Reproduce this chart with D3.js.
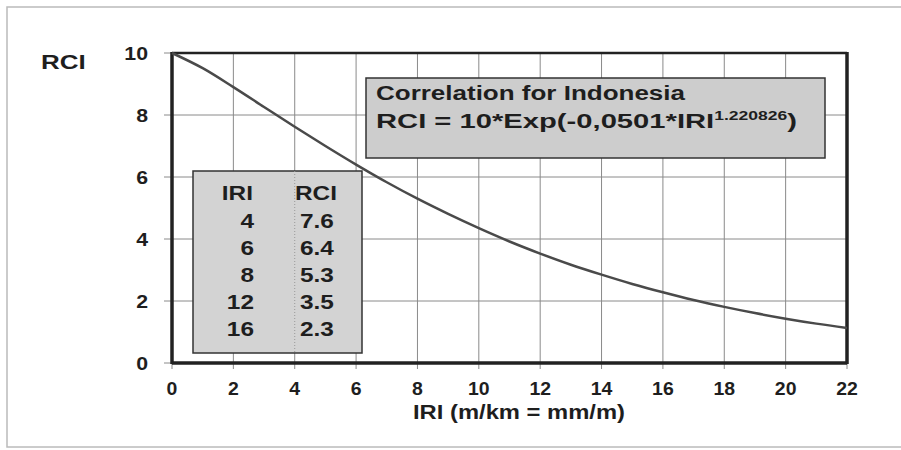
<!DOCTYPE html>
<meta charset="utf-8">
<head>
<style>
  body { margin: 0; background-color: #ffffff; }
  svg { display: block; font-family: "Liberation Sans", Arial, sans-serif; }
  .grid line { stroke: #8a8a8a; stroke-width: 1px; }
  text { fill: #1e1e1e; font-weight: bold; }
  .tick-label { font-size: 18px; }
  .box-text { font-size: 20px; }
</style>
</head>
<body>
<svg id="chart" width="901" height="450"></svg>
<script src="https://d3js.org/d3.v7.min.js"></script>
<script>

// values, one per IRI unit
var iri = [0, 1, 2, 3, 4, 5, 6, 7, 8, 9, 10, 11, 12, 13, 14, 15, 16, 17, 18, 19, 20, 21, 22];
var rci = [10, 9.51, 8.9, 8.26, 7.62, 7.0, 6.4, 5.83, 5.3, 4.81, 4.35, 3.92, 3.53, 3.17, 2.85, 2.55, 2.28, 2.03, 1.81, 1.61, 1.43, 1.27, 1.13];

// the little table in the chart
var tableIri = ["4", "6", "8", "12", "16"];
var tableRci = ["7.6", "6.4", "5.3", "3.5", "2.3"];

var xTicks = [0, 2, 4, 6, 8, 10, 12, 14, 16, 18, 20, 22];
var yTicks = [0, 2, 4, 6, 8, 10];

var svg = d3.select("#chart"),
    margin = {top: 53, right: 54, bottom: 87, left: 172},
    width = +svg.attr("width") - margin.left - margin.right,
    height = +svg.attr("height") - margin.top - margin.bottom;

// the scan is stretched sideways, so text is too
function stretch(sel, x, y, sx) {
  sel.attr("transform", "translate(" + x + "," + y + ") scale(" + sx + ",1)");
  return sel;
}

// outer frame of the scanned figure
svg.append("rect")
    .attr("x", 7).attr("y", 7)
    .attr("width", 900).attr("height", 440)
    .attr("fill", "none")
    .attr("stroke", "#bbb")
    .attr("stroke-width", 1.5);

var x = d3.scaleLinear().domain([0, 22]).range([0, width]);
var y = d3.scaleLinear().domain([0, 10]).range([height, 0]);

var g = svg.append("g")
    .attr("transform", "translate(" + margin.left + "," + margin.top + ")");

// grid
g.append("g").attr("class", "grid")
  .selectAll("line.v")
  .data(xTicks)
  .enter().append("line")
    .attr("x1", function(d) { return x(d); })
    .attr("x2", function(d) { return x(d); })
    .attr("y1", 0)
    .attr("y2", height + 6);

g.append("g").attr("class", "grid")
  .selectAll("line.h")
  .data(yTicks)
  .enter().append("line")
    .attr("x1", -8)
    .attr("x2", width)
    .attr("y1", function(d) { return y(d); })
    .attr("y2", function(d) { return y(d); });

// tick labels
g.selectAll(".xlab")
  .data(xTicks)
  .enter().append("text")
    .attr("class", "tick-label")
    .attr("text-anchor", "middle")
    .attr("transform", function(d) { return "translate(" + x(d) + "," + (height + 32) + ") scale(1.08,1)"; })
    .text(function(d) { return d; });

g.selectAll(".ylab")
  .data(yTicks)
  .enter().append("text")
    .attr("class", "tick-label")
    .attr("text-anchor", "end")
    .style("font-size", "19px")
    .attr("transform", function(d) { return "translate(-24," + (y(d) + 7) + ") scale(1.12,1)"; })
    .text(function(d) { return d; });

// plot border, heavy like the original
g.append("line").attr("x1", 0).attr("x2", width).attr("y1", 0).attr("y2", 0)
    .attr("stroke", "#222").attr("stroke-width", 2.5);
g.append("line").attr("x1", 0).attr("x2", 0).attr("y1", -1).attr("y2", height + 1)
    .attr("stroke", "#222").attr("stroke-width", 3.5);
g.append("line").attr("x1", 0).attr("x2", width).attr("y1", height).attr("y2", height)
    .attr("stroke", "#222").attr("stroke-width", 3.5);
g.append("line").attr("x1", width).attr("x2", width).attr("y1", -1).attr("y2", height + 1)
    .attr("stroke", "#222").attr("stroke-width", 3.5);

// axis titles
stretch(svg.append("text").attr("class", "box-text").text("RCI"), 41, 69, 1.3);

svg.append("text")
    .attr("class", "box-text")
    .attr("x", 413).attr("y", 419)
    .attr("textLength", 212)
    .attr("lengthAdjust", "spacingAndGlyphs")
    .text("IRI (m/km = mm/m)");

// curve
var line = d3.line()
    .x(function(d, i) { return x(iri[i]); })
    .y(function(d) { return y(d); })
    .curve(d3.curveMonotoneX);

g.append("path")
    .datum(rci)
    .attr("fill", "none")
    .attr("stroke", "#4a4a4a")
    .attr("stroke-width", 2.5)
    .attr("d", line);

// correlation box
var cb = g.append("g")
    .attr("transform", "translate(" + (366 - margin.left) + "," + (78 - margin.top) + ")");
cb.append("rect")
    .attr("width", 459).attr("height", 80)
    .attr("fill", "#cdcdcd")
    .attr("stroke", "#333").attr("stroke-width", 1.5);
cb.append("text").attr("class", "box-text")
    .attr("x", 10).attr("y", 22)
    .attr("textLength", 309)
    .attr("lengthAdjust", "spacingAndGlyphs")
    .text("Correlation for Indonesia");
var eq = cb.append("text").attr("class", "box-text")
    .attr("x", 10).attr("y", 50)
    .attr("textLength", 421)
    .attr("lengthAdjust", "spacingAndGlyphs");
eq.append("tspan").text("RCI = 10*Exp(-0,0501*IRI");
eq.append("tspan").attr("dy", -8).style("font-size", "12px").text("1.220826");
eq.append("tspan").attr("dy", 8).text(")");

// table box
var tb = g.append("g")
    .attr("transform", "translate(" + (193 - margin.left) + "," + (171 - margin.top) + ")");
tb.append("rect")
    .attr("width", 169).attr("height", 182)
    .attr("fill", "#d3d3d3")
    .attr("stroke", "#333").attr("stroke-width", 1.5);
tb.append("line")
    .attr("x1", x(4) - (193 - margin.left)).attr("x2", x(4) - (193 - margin.left))
    .attr("y1", 0).attr("y2", 182)
    .attr("stroke", "#999").attr("stroke-dasharray", "1,2");

tb.append("text").attr("class", "box-text")
    .attr("text-anchor", "end")
    .attr("transform", "translate(60,29) scale(1.22,1)")
    .text("IRI");
tb.append("text").attr("class", "box-text")
    .attr("transform", "translate(102,29) scale(1.22,1)")
    .text("RCI");

tb.selectAll(".ti")
  .data(tableIri)
  .enter().append("text")
    .attr("class", "box-text")
    .attr("text-anchor", "end")
    .attr("transform", function(d, i) { return "translate(61," + (57 + i * 27) + ") scale(1.22,1)"; })
    .text(function(d) { return d; });

tb.selectAll(".tr")
  .data(tableRci)
  .enter().append("text")
    .attr("class", "box-text")
    .attr("transform", function(d, i) { return "translate(107," + (57 + i * 27) + ") scale(1.22,1)"; })
    .text(function(d) { return d; });

</script>
</body>
</html>
